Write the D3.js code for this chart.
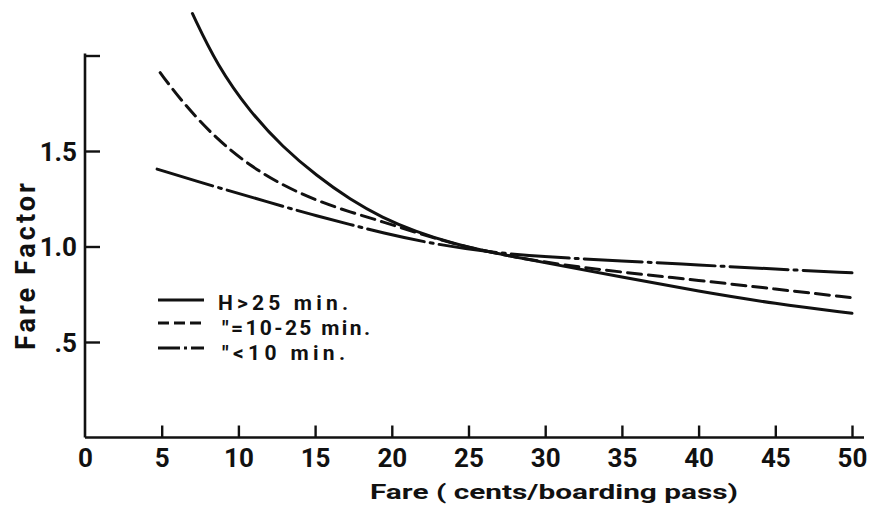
<!DOCTYPE html>
<html>
<head>
<meta charset="utf-8">
<script src="https://cdn.jsdelivr.net/npm/d3@7"></script>
<style>
  html, body { margin: 0; padding: 0; background: #fff; }
  svg { display: block; }
  text { font-family: Roboto, "Liberation Sans", sans-serif; font-weight: 700; fill: #111; }
</style>
</head>
<body>
<svg id="chart" width="876" height="517"></svg>
<script>
// Fare factor vs. fare, by headway class
const xTicks = [0, 5, 10, 15, 20, 25, 30, 35, 40, 45, 50];
const yTicks = [0.5, 1.0, 1.5, 2.0];
const yTickLabels = [".5", "1.0", "1.5", ""];

// H > 25 min.
const longFare   = [7.0, 8.6, 10.8, 12.9, 15.1, 17.3, 19.4, 21.5, 24.0, 26.4, 30, 35, 40, 45, 50];
const longFactor = [2.22, 1.95, 1.70, 1.52, 1.37, 1.245, 1.15, 1.08, 1.015, 0.97, 0.915, 0.84, 0.765, 0.70, 0.65];

// H = 10-25 min.
const midFare   = [4.9, 6.4, 8.6, 10.8, 12.9, 15.1, 17.3, 19.4, 21.5, 24.0, 26.4, 30, 35, 40, 45, 50];
const midFactor = [1.91, 1.75, 1.56, 1.42, 1.32, 1.24, 1.18, 1.13, 1.075, 1.015, 0.97, 0.915, 0.865, 0.823, 0.777, 0.732];

// H < 10 min.
const shortFare   = [4.7, 8.6, 10.8, 12.9, 15.1, 17.3, 19.2, 22.9, 26.4, 30, 35, 40, 45, 50];
const shortFactor = [1.405, 1.31, 1.26, 1.21, 1.16, 1.115, 1.075, 1.01, 0.97, 0.945, 0.925, 0.903, 0.882, 0.862];

const legendLabels = ["H>25 min.", "\"=10-25 min.", "\"<10 min."];
const dashStyles = [null, "14,7", "58,6,3,6"];

const svg = d3.select("#chart");

const x = d3.scaleLinear().domain([0, 50]).range([85, 852]);
const y = d3.scaleLinear().domain([0.5, 1.5]).range([342, 151]);

const axisColor = "#111";

// x axis: ticks point up into the plot
const xAxis = svg.append("g")
  .attr("transform", `translate(0,${y(0)})`)
  .call(d3.axisBottom(x).tickValues(xTicks).tickSize(-12).tickPadding(0).tickSizeOuter(0).tickFormat(d3.format("d")));
xAxis.select(".domain").remove();
xAxis.append("line")
  .attr("x1", x(0)).attr("x2", 864)
  .attr("stroke", axisColor).attr("stroke-width", 2.6);
xAxis.selectAll(".tick line").attr("stroke", axisColor).attr("stroke-width", 2.4);
xAxis.selectAll(".tick").filter(d => d === 0).select("line").remove();
xAxis.selectAll(".tick text")
  .attr("y", 29).attr("dy", null)
  .style("font-size", "26px").attr("fill", "#111");

// y axis: ticks point right into the plot
const yAxis = svg.append("g")
  .attr("transform", `translate(${x(0)},0)`)
  .call(d3.axisLeft(y).tickValues(yTicks).tickSize(-15).tickPadding(8).tickSizeOuter(0)
    .tickFormat((d, i) => yTickLabels[i]));
yAxis.select(".domain").remove();
yAxis.append("line")
  .attr("y1", y(0)).attr("y2", y(2.0) - 2)
  .attr("stroke", axisColor).attr("stroke-width", 2.6);
yAxis.selectAll(".tick line").attr("stroke", axisColor).attr("stroke-width", 2.4);
yAxis.selectAll(".tick text")
  .style("font-size", "26px").attr("fill", "#111").attr("dy", "0.36em");

// curves
const line = d3.line().x(d => x(d[0])).y(d => y(d[1])).curve(d3.curveBasis);
const series = [
  d3.zip(longFare, longFactor),
  d3.zip(midFare, midFactor),
  d3.zip(shortFare, shortFactor)
];
series.forEach((pts, i) => {
  svg.append("path")
    .attr("d", line(pts))
    .attr("fill", "none")
    .attr("stroke", "#111")
    .attr("stroke-width", 3)
    .attr("stroke-linecap", "round")
    .attr("stroke-dasharray", dashStyles[i]);
});

// legend
const legendRows = [300, 323, 348];
const textBase = [310, 335, 360];
const legendWidths = [130, 148, 123];
legendLabels.forEach((label, i) => {
  svg.append("line")
    .attr("x1", 158).attr("x2", 204)
    .attr("y1", legendRows[i]).attr("y2", legendRows[i])
    .attr("stroke", "#111").attr("stroke-width", 3)
    .attr("stroke-dasharray", i === 2 ? "22,4,3,4" : (i === 1 ? "11,5" : null));
  svg.append("text")
    .attr("x", i === 0 ? 218 : 222).attr("y", textBase[i])
    .attr("textLength", legendWidths[i]).attr("lengthAdjust", "spacing")
    .style("font-size", "21px")
    .text(label);
});

// axis titles
svg.append("text")
  .attr("x", 370).attr("y", 499)
  .attr("textLength", 368).attr("lengthAdjust", "spacingAndGlyphs")
  .style("font-size", "21px")
  .text("Fare ( cents/boarding pass)");

svg.append("text")
  .attr("transform", "translate(35,350) rotate(-90)")
  .attr("textLength", 167).attr("lengthAdjust", "spacing")
  .style("font-size", "27px")
  .text("Fare  Factor");
</script>
</body>
</html>
